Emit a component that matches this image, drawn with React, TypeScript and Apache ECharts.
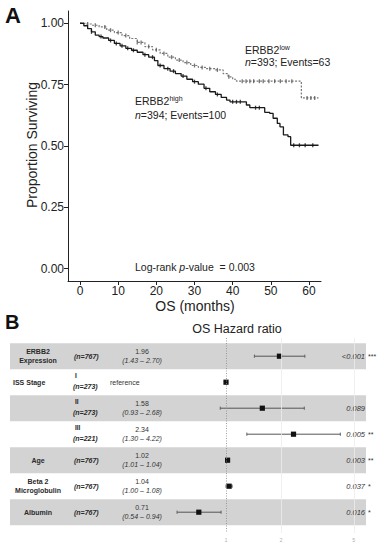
import React, { useEffect, useRef } from "react";
import * as echarts from "echarts";

const FONT = "'Liberation Sans', Arial, Helvetica, sans-serif";

// ---------- Panel A: Kaplan-Meier ----------
const highTimes = [0, 1, 2, 3, 4, 5, 6, 7.5, 9, 10.5, 12, 13.5, 15, 16.5, 18, 19.5, 20.4, 22, 23.6, 25, 26.5, 28, 29.5, 31, 32.5, 34, 35.5, 37, 38.4, 39.3, 43.6, 44.5, 48.4, 49.7, 50.6, 51.7, 52.4, 53.3, 54.5, 55.2, 62.5];
const highSurv = [1, 0.99, 0.978, 0.965, 0.952, 0.946, 0.94, 0.93, 0.918, 0.908, 0.898, 0.89, 0.882, 0.872, 0.862, 0.848, 0.828, 0.815, 0.805, 0.795, 0.785, 0.772, 0.762, 0.752, 0.735, 0.721, 0.71, 0.698, 0.687, 0.68, 0.667, 0.656, 0.637, 0.633, 0.613, 0.592, 0.578, 0.545, 0.538, 0.503, 0.503];
const lowTimes = [0, 1.5, 3, 5, 7, 9, 11, 13, 15, 17, 19, 21, 23, 25, 27, 29, 31, 33, 35.5, 37.5, 38.8, 40, 41, 58, 62.5];
const lowSurv = [1, 0.997, 0.992, 0.985, 0.972, 0.962, 0.95, 0.938, 0.922, 0.905, 0.892, 0.877, 0.862, 0.85, 0.84, 0.828, 0.82, 0.815, 0.81, 0.795, 0.782, 0.772, 0.764, 0.696, 0.696];
const highCensor = [3, 5.5, 8, 9.5, 11, 12.5, 14, 17, 19, 21, 23, 24.5, 27, 30, 33, 36, 40, 41, 42, 46, 47, 56, 57.5, 59, 61];
const lowCensor = [2, 4, 6.5, 8, 10, 12, 15, 16, 18, 20, 22, 24, 26, 28, 30, 32, 34, 36, 39, 42.5, 43.5, 44.5, 45.5, 47, 48, 49.5, 51, 52.5, 54, 55.5, 59.5, 60.5, 61.5];
const monthTicks = [0, 10, 20, 30, 40, 50, 60];
const survTicks = [0, 0.25, 0.5, 0.75, 1];

// ---------- Panel B: forest plot ----------
const rowNames = ["ERBB2\nExpression", "ISS Stage", "", "", "Age", "Beta 2\nMicroglobulin", "Albumin"];
const rowStages = ["", "I", "II", "III", "", "", ""];
const rowN = ["(n=767)", "(n=273)", "(n=273)", "(n=221)", "(n=767)", "(n=767)", "(n=767)"];
const hrValues = [1.96, 1, 1.58, 2.34, 1.02, 1.04, 0.71];
const hrLow = [1.43, null, 0.93, 1.3, 1.01, 1.0, 0.54];
const hrHigh = [2.7, null, 2.68, 4.22, 1.04, 1.08, 0.94];
const hrText = ["1.96", "reference", "1.58", "2.34", "1.02", "1.04", "0.71"];
const ciText = ["(1.43 – 2.70)", "", "(0.93 – 2.68)", "(1.30 – 4.22)", "(1.01 – 1.04)", "(1.00 – 1.08)", "(0.54 – 0.94)"];
const pText = ["<0.001", "", "0.089", "0.005", "0.003", "0.037", "0.016"];
const starText = ["***", "", "", "**", "**", "*", "*"];
const rowShaded = [true, false, true, false, true, false, true];
const hrTicks = [1, 2, 5];

const HR_MIN = 0.494;
const HR_MAX = 5.83;
const ROW_MIN = -0.7;
const ROW_MAX = 6.8;

function stepAt(times: number[], surv: number[], t: number) {
  let v = surv[0];
  for (let k = 0; k < times.length; k++) if (times[k] <= t) v = surv[k];
  return v;
}

function txt(x: number, y: number, text: string, opts: any = {}) {
  const align = opts.align || "left";
  const va = opts.verticalAlign || "middle";
  return {
    type: "text",
    x,
    y,
    style: {
      text,
      fontFamily: FONT,
      fontSize: opts.fontSize || 7,
      fontWeight: opts.fontWeight || "normal",
      fontStyle: opts.fontStyle || "normal",
      fill: opts.fill || "#2a2a2a",
      align,
      textAlign: align,
      verticalAlign: va,
      textVerticalAlign: va,
      lineHeight: opts.lineHeight,
    },
  };
}

function buildOption(): any {
  const rowIdx = rowNames.map((_, i) => [i]);
  const forestData = hrValues.map((v, i) => [i, v, hrLow[i] ?? v, hrHigh[i] ?? v]);

  const richBase = {
    b: { fontSize: 10.5, fontFamily: FONT, color: "#222", lineHeight: 13 },
    i: { fontSize: 10.5, fontFamily: FONT, color: "#222", fontStyle: "italic", lineHeight: 13 },
    s: { fontSize: 7, fontFamily: FONT, color: "#222", verticalAlign: "top", lineHeight: 8 },
  };

  const richText = (x: number, y: number, text: string) => ({
    type: "text",
    x,
    y,
    style: { text, rich: richBase, align: "left", verticalAlign: "middle", textAlign: "left", textVerticalAlign: "middle", fill: "#222", fontSize: 10.5, fontFamily: FONT },
  });

  return {
    animation: false,
    backgroundColor: "#ffffff",
    textStyle: { fontFamily: FONT },
    grid: [
      { left: 68, top: 11, width: 253, height: 270 },
      { left: 170, top: 338, width: 196, height: 195 },
    ],
    xAxis: [
      {
        gridIndex: 0,
        type: "value",
        min: -3.15,
        max: 63.15,
        axisLine: { show: true, onZero: false, lineStyle: { color: "#222", width: 1 } },
        axisTick: { show: true, length: 4, lineStyle: { color: "#222" }, customValues: monthTicks },
        axisLabel: { customValues: monthTicks, fontSize: 12, color: "#222", margin: 4, fontFamily: FONT },
        splitLine: { show: false },
      },
      {
        gridIndex: 1,
        type: "log",
        min: HR_MIN,
        max: HR_MAX,
        axisLine: { show: false, onZero: false },
        axisTick: { show: false },
        axisLabel: { show: false },
        splitLine: { show: false },
      },
    ],
    yAxis: [
      {
        gridIndex: 0,
        type: "value",
        min: -0.05,
        max: 1.05,
        axisLine: { show: true, onZero: false, lineStyle: { color: "#222", width: 1 } },
        axisTick: { show: true, length: 4, lineStyle: { color: "#222" }, customValues: survTicks },
        axisLabel: { customValues: survTicks, fontSize: 12, color: "#222", margin: 4, fontFamily: FONT, formatter: (v: number) => v.toFixed(2) },
        splitLine: { show: false },
      },
      {
        gridIndex: 1,
        type: "value",
        min: ROW_MIN,
        max: ROW_MAX,
        inverse: true,
        show: false,
        axisLine: { onZero: false },
        splitLine: { show: false },
      },
    ],
    series: [
      {
        name: "ERBB2 low",
        type: "line",
        xAxisIndex: 0,
        yAxisIndex: 0,
        step: "end",
        showSymbol: false,
        data: lowTimes.map((t, i) => [t, lowSurv[i]]),
        lineStyle: { color: "#777", width: 1.2, type: [2, 1.5] },
        z: 2,
      },
      {
        name: "ERBB2 high",
        type: "line",
        xAxisIndex: 0,
        yAxisIndex: 0,
        step: "end",
        showSymbol: false,
        data: highTimes.map((t, i) => [t, highSurv[i]]),
        lineStyle: { color: "#1a1a1a", width: 1.3 },
        z: 3,
      },
      {
        name: "low censored",
        type: "scatter",
        xAxisIndex: 0,
        yAxisIndex: 0,
        symbol: "rect",
        symbolSize: [1.3, 4],
        itemStyle: { color: "#555" },
        data: lowCensor.map((t) => [t, stepAt(lowTimes, lowSurv, t)]),
        z: 2,
      },
      {
        name: "high censored",
        type: "scatter",
        xAxisIndex: 0,
        yAxisIndex: 0,
        symbol: "rect",
        symbolSize: [1.3, 4],
        itemStyle: { color: "#111" },
        data: highCensor.map((t) => [t, stepAt(highTimes, highSurv, t)]),
        z: 3,
      },
      {
        name: "hr ticks",
        type: "scatter",
        xAxisIndex: 1,
        yAxisIndex: 1,
        symbolSize: 1,
        itemStyle: { color: "rgba(0,0,0,0)" },
        data: hrTicks.map((v) => [v, ROW_MAX]),
        label: {
          show: true,
          position: "bottom",
          distance: 3,
          formatter: (p: any) => String(p.value[0]),
          fontSize: 5.5,
          color: "#999",
          fontFamily: FONT,
        },
        markLine: {
          silent: true,
          symbol: ["none", "none"],
          label: { show: false },
          lineStyle: { color: "#ececec", width: 0.8, type: "solid" },
          data: [{ xAxis: 2 }, { xAxis: 5 }],
        },
        z: 0,
      },
      {
        name: "rows",
        type: "custom",
        xAxisIndex: 1,
        yAxisIndex: 1,
        data: rowIdx,
        z: 1,
        renderItem: (params: any, api: any) => {
          const i = api.value(0);
          const cs = params.coordSys;
          const yc = api.coord([1, i])[1];
          const h = Math.abs(api.coord([1, i + 0.5])[1] - api.coord([1, i - 0.5])[1]);
          const children: any[] = [];
          if (rowShaded[i]) {
            children.push({
              type: "rect",
              shape: { x: 10, y: yc - h / 2, width: cs.x + cs.width - 10, height: h },
              style: { fill: "#d3d3d3" },
            });
          }
          if (rowNames[i]) {
            if (rowNames[i] === "ISS Stage") {
              children.push(txt(13, yc, rowNames[i], { fontWeight: "bold", fontSize: 7 }));
            } else {
              children.push(txt(38, yc, rowNames[i], { fontWeight: "bold", fontSize: 7, align: "center", lineHeight: 8.5 }));
            }
          }
          if (rowStages[i]) {
            children.push(txt(75, yc - 6.5, rowStages[i], { fontWeight: "bold", fontSize: 6.5, fill: "#222" }));
            children.push(txt(73, yc + 4.5, rowN[i], { fontWeight: "bold", fontStyle: "italic", fontSize: 7 }));
          } else {
            children.push(txt(74, yc, rowN[i], { fontWeight: "bold", fontStyle: "italic", fontSize: 7 }));
          }
          if (ciText[i]) {
            children.push(txt(142, yc - 4.5, hrText[i], { align: "center", fontSize: 7, fill: "#333" }));
            children.push(txt(142, yc + 4, ciText[i], { align: "center", fontSize: 7, fontStyle: "italic", fill: "#333" }));
          } else {
            children.push(txt(110, yc, hrText[i], { fontSize: 7, fill: "#333" }));
          }
          if (pText[i]) {
            children.push(txt(365, yc, pText[i], { align: "right", fontSize: 7.5, fontStyle: "italic", fill: "#333" }));
          }
          if (starText[i]) {
            children.push(txt(368, yc, starText[i], { fontSize: 7, fill: "#333" }));
          }
          return { type: "group", children };
        },
      },
      {
        name: "hazard ratio",
        type: "custom",
        xAxisIndex: 1,
        yAxisIndex: 1,
        data: forestData,
        z: 3,
        renderItem: (params: any, api: any) => {
          const i = api.value(0);
          const p = api.coord([api.value(1), i]);
          const lo = api.coord([api.value(2), i]);
          const hi = api.coord([api.value(3), i]);
          const children: any[] = [];
          if (hi[0] - lo[0] > 0.5) {
            children.push({ type: "line", shape: { x1: lo[0], y1: p[1], x2: hi[0], y2: p[1] }, style: { stroke: "#555", lineWidth: 1 } });
            children.push({ type: "line", shape: { x1: lo[0], y1: p[1] - 1.6, x2: lo[0], y2: p[1] + 1.6 }, style: { stroke: "#555", lineWidth: 0.9 } });
            children.push({ type: "line", shape: { x1: hi[0], y1: p[1] - 1.6, x2: hi[0], y2: p[1] + 1.6 }, style: { stroke: "#555", lineWidth: 0.9 } });
          }
          children.push({ type: "rect", shape: { x: p[0] - 2.6, y: p[1] - 2.6, width: 5.2, height: 5.2 }, style: { fill: "#111" } });
          return { type: "group", children };
        },
        markLine: {
          silent: true,
          symbol: ["none", "none"],
          label: { show: false },
          lineStyle: { color: "#888", width: 0.8, type: [1, 1.5] },
          data: [{ xAxis: 1 }],
        },
      },
    ],
    graphic: [
      { type: "text", x: 5, y: 15, style: { text: "A", fontFamily: FONT, fontSize: 22, fontWeight: "bold", fill: "#111", align: "left", verticalAlign: "middle", textAlign: "left", textVerticalAlign: "middle" } },
      { type: "text", x: 5, y: 321.5, style: { text: "B", fontFamily: FONT, fontSize: 20, fontWeight: "bold", fill: "#111", align: "left", verticalAlign: "middle", textAlign: "left", textVerticalAlign: "middle" } },
      { type: "text", x: 32, y: 145, rotation: Math.PI / 2, style: { text: "Proportion Surviving", fontFamily: FONT, fontSize: 14, fill: "#222", align: "center", verticalAlign: "middle", textAlign: "center", textVerticalAlign: "middle" } },
      { type: "text", x: 195, y: 306, style: { text: "OS (months)", fontFamily: FONT, fontSize: 14, fill: "#222", align: "center", verticalAlign: "middle", textAlign: "center", textVerticalAlign: "middle" } },
      { type: "text", x: 237, y: 329, style: { text: "OS Hazard ratio", fontFamily: FONT, fontSize: 12.5, fill: "#222", align: "center", verticalAlign: "middle", textAlign: "center", textVerticalAlign: "middle" } },
      richText(245, 50, "{b|ERBB2}{s|low}"),
      richText(245, 62, "{i|n}{b|=393; Events=63}"),
      richText(135, 101, "{b|ERBB2}{s|high}"),
      richText(135, 115, "{i|n}{b|=394; Events=100}"),
      richText(135, 267, "{b|Log-rank }{i|p}{b|-value  = 0.003}"),
    ],
  };
}

export default function App() {
  const ref = useRef<HTMLDivElement>(null);
  useEffect(() => {
    if (!ref.current) return;
    const chart = echarts.init(ref.current, null, { renderer: "svg" });
    chart.setOption(buildOption());
    return () => chart.dispose();
  }, []);
  return (
    <div
      ref={ref}
      style={{ position: "fixed", left: 0, top: 0, width: 387, height: 550, background: "#fff" }}
    />
  );
}
